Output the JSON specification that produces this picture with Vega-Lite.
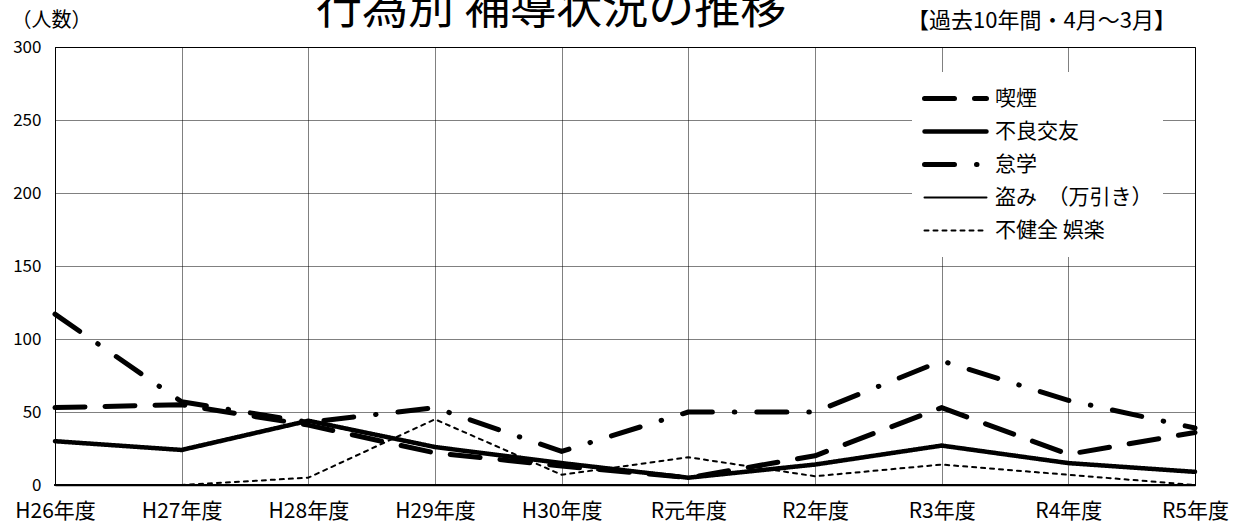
{
  "$schema": "https://vega.github.io/schema/vega-lite/v6.json",
  "width": 1140,
  "height": 438,
  "autosize": {"type": "none"},
  "padding": {"left": 55, "top": 47, "right": 45, "bottom": 40},
  "background": "white",
  "config": {
    "font": "Noto Sans CJK JP",
    "view": {"stroke": "#000", "strokeWidth": 1}
  },
  "title": {
    "text": "行為別 補導状況の推移",
    "fontSize": 46,
    "fontWeight": "normal",
    "font": "Noto Sans CJK JP",
    "color": "#000",
    "anchor": "start",
    "dx": 305,
    "baseline": "alphabetic",
    "offset": 0,
    "dy": 60
  },
  "data": {
    "values": [
      {"year": "H26年度", "type": "喫煙", "count": 53},
      {"year": "H27年度", "type": "喫煙", "count": 55},
      {"year": "H28年度", "type": "喫煙", "count": 41},
      {"year": "H29年度", "type": "喫煙", "count": 22},
      {"year": "H30年度", "type": "喫煙", "count": 13},
      {"year": "R元年度", "type": "喫煙", "count": 5},
      {"year": "R2年度", "type": "喫煙", "count": 20},
      {"year": "R3年度", "type": "喫煙", "count": 53},
      {"year": "R4年度", "type": "喫煙", "count": 21},
      {"year": "R5年度", "type": "喫煙", "count": 36},
      {"year": "H26年度", "type": "不良交友", "count": 30},
      {"year": "H27年度", "type": "不良交友", "count": 24},
      {"year": "H28年度", "type": "不良交友", "count": 44},
      {"year": "H29年度", "type": "不良交友", "count": 26},
      {"year": "H30年度", "type": "不良交友", "count": 15},
      {"year": "R元年度", "type": "不良交友", "count": 5},
      {"year": "R2年度", "type": "不良交友", "count": 14},
      {"year": "R3年度", "type": "不良交友", "count": 27},
      {"year": "R4年度", "type": "不良交友", "count": 15},
      {"year": "R5年度", "type": "不良交友", "count": 9},
      {"year": "H26年度", "type": "怠学", "count": 117},
      {"year": "H27年度", "type": "怠学", "count": 57},
      {"year": "H28年度", "type": "怠学", "count": 43},
      {"year": "H29年度", "type": "怠学", "count": 53},
      {"year": "H30年度", "type": "怠学", "count": 23},
      {"year": "R元年度", "type": "怠学", "count": 50},
      {"year": "R2年度", "type": "怠学", "count": 50},
      {"year": "R3年度", "type": "怠学", "count": 85},
      {"year": "R4年度", "type": "怠学", "count": 58},
      {"year": "R5年度", "type": "怠学", "count": 39},
      {"year": "H26年度", "type": "盗み　（万引き）", "count": 0},
      {"year": "H27年度", "type": "盗み　（万引き）", "count": 0},
      {"year": "H28年度", "type": "盗み　（万引き）", "count": 0},
      {"year": "H29年度", "type": "盗み　（万引き）", "count": 0},
      {"year": "H30年度", "type": "盗み　（万引き）", "count": 0},
      {"year": "R元年度", "type": "盗み　（万引き）", "count": 0},
      {"year": "R2年度", "type": "盗み　（万引き）", "count": 0},
      {"year": "R3年度", "type": "盗み　（万引き）", "count": 0},
      {"year": "R4年度", "type": "盗み　（万引き）", "count": 0},
      {"year": "R5年度", "type": "盗み　（万引き）", "count": 0},
      {"year": "H26年度", "type": "不健全   娯楽", "count": 0},
      {"year": "H27年度", "type": "不健全   娯楽", "count": 0},
      {"year": "H28年度", "type": "不健全   娯楽", "count": 5},
      {"year": "H29年度", "type": "不健全   娯楽", "count": 45},
      {"year": "H30年度", "type": "不健全   娯楽", "count": 7},
      {"year": "R元年度", "type": "不健全   娯楽", "count": 19},
      {"year": "R2年度", "type": "不健全   娯楽", "count": 6},
      {"year": "R3年度", "type": "不健全   娯楽", "count": 14},
      {"year": "R4年度", "type": "不健全   娯楽", "count": 7},
      {"year": "R5年度", "type": "不健全   娯楽", "count": 0}
    ]
  },
  "mark": {"type": "line", "color": "#000", "strokeCap": "round", "strokeJoin": "round"},
  "encoding": {
    "x": {
      "field": "year",
      "type": "ordinal",
      "sort": null,
      "scale": {"type": "point", "padding": 0},
      "axis": {
        "title": "【過去10年間・4月～3月】",
        "titleX": 986,
        "titleY": -465,
        "titleAlign": "center",
        "titleBaseline": "middle",
        "titleFontSize": 22,
        "titleFontWeight": "normal",
        "titleColor": "#000",
        "labelAngle": 0,
        "labelFontSize": 21,
        "labelColor": "#000",
        "labelPadding": 15,
        "ticks": false,
        "grid": true,
        "gridDash": [1, 1],
        "gridColor": "#000",
        "gridWidth": 1,
        "domainColor": "#000",
        "domainWidth": 1.5
      }
    },
    "y": {
      "field": "count",
      "type": "quantitative",
      "scale": {"domain": [0, 300]},
      "axis": {
        "values": [0, 50, 100, 150, 200, 250, 300],
        "title": "（人数）",
        "titleAngle": 0,
        "titleX": -4,
        "titleY": -27,
        "titleAlign": "center",
        "titleBaseline": "middle",
        "titleFontSize": 20,
        "titleFontWeight": "normal",
        "titleColor": "#000",
        "labelFontSize": 17,
        "labelColor": "#000",
        "labelPadding": 14,
        "ticks": false,
        "grid": true,
        "gridDash": [1, 1],
        "gridColor": "#000",
        "gridWidth": 1,
        "domainColor": "#000",
        "domainWidth": 1
      }
    },
    "strokeDash": {
      "field": "type",
      "type": "nominal",
      "scale": {
        "domain": ["喫煙", "不良交友", "怠学", "盗み　（万引き）", "不健全   娯楽"],
        "range": [[30, 20], [1, 0], [30, 22, 0.5, 22], [1, 0], [4, 5]]
      },
      "legend": {
        "title": null,
        "orient": "none",
        "legendX": 857,
        "legendY": 25,
        "fillColor": "white",
        "padding": 10,
        "symbolType": "stroke",
        "symbolSize": 3844,
        "symbolStrokeColor": "#000",
        "clipHeight": 33,
        "rowPadding": 0,
        "labelFontSize": 21,
        "labelOffset": 6,
        "labelColor": "#000",
        "labelLimit": 300,
        "encode": {"symbols": {"update": {"strokeCap": {"value": "round"}}}}
      }
    },
    "strokeWidth": {
      "field": "type",
      "type": "nominal",
      "scale": {
        "type": "ordinal",
        "domain": ["喫煙", "不良交友", "怠学", "盗み　（万引き）", "不健全   娯楽"],
        "range": [5, 4.5, 5, 2, 2]
      },
      "legend": {
        "title": null,
        "orient": "none",
        "legendX": 857,
        "legendY": 25,
        "fillColor": "white",
        "padding": 10,
        "symbolType": "stroke",
        "symbolSize": 3844,
        "symbolStrokeColor": "#000",
        "clipHeight": 33,
        "rowPadding": 0,
        "labelFontSize": 21,
        "labelOffset": 6,
        "labelColor": "#000",
        "labelLimit": 300,
        "encode": {"symbols": {"update": {"strokeCap": {"value": "round"}}}}
      }
    }
  }
}
